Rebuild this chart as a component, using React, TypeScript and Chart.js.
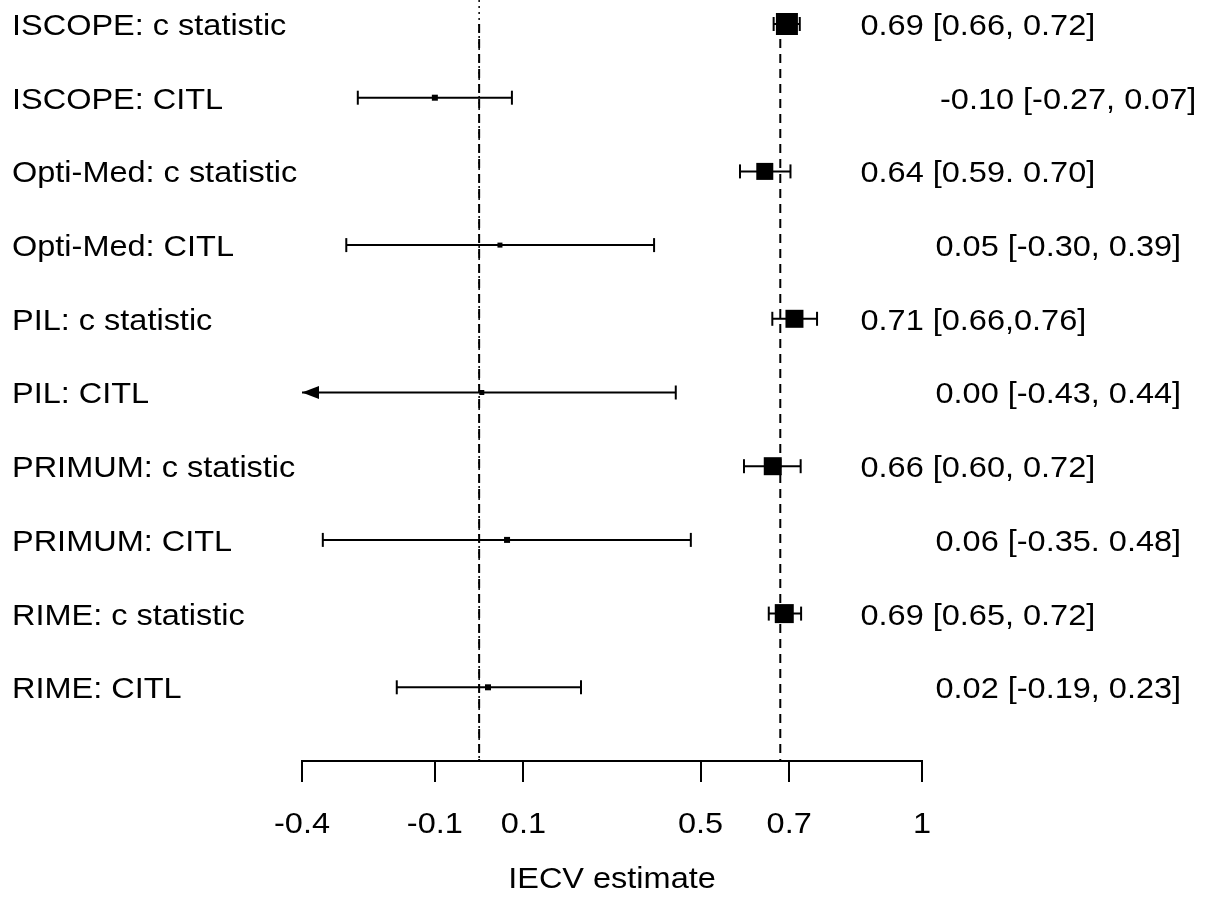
import React, { useEffect, useRef } from "react";
import { Chart, registerables } from "chart.js";

Chart.register(...registerables);

// ---------- data ----------
const rowLabels = [
  "ISCOPE: c statistic",
  "ISCOPE: CITL",
  "Opti-Med: c statistic",
  "Opti-Med: CITL",
  "PIL: c statistic",
  "PIL: CITL",
  "PRIMUM: c statistic",
  "PRIMUM: CITL",
  "RIME: c statistic",
  "RIME: CITL",
];
const estimates = [0.695, -0.1, 0.645, 0.047, 0.712, 0.006, 0.663, 0.063, 0.689, 0.02];
const lowerCI = [0.665, -0.274, 0.589, -0.3, 0.662, -0.43, 0.598, -0.353, 0.654, -0.186];
const upperCI = [0.724, 0.074, 0.703, 0.395, 0.763, 0.444, 0.726, 0.478, 0.727, 0.23];
const annotations = [
  "0.69 [0.66, 0.72]",
  "-0.10 [-0.27, 0.07]",
  "0.64 [0.59. 0.70]",
  "0.05 [-0.30, 0.39]",
  "0.71 [0.66,0.76]",
  "0.00 [-0.43, 0.44]",
  "0.66 [0.60, 0.72]",
  "0.06 [-0.35. 0.48]",
  "0.69 [0.65, 0.72]",
  "0.02 [-0.19, 0.23]",
];
const refLines = [0, 0.68];
const xTicks = [-0.4, -0.1, 0.1, 0.5, 0.7, 1];
const xTickLabels = ["-0.4", "-0.1", "0.1", "0.5", "0.7", "1"];
const axisTitle = "IECV estimate";

// ---------- styling ----------
const X_MIN = -0.4;
const X_MAX = 1;
const squareSides = [22, 6, 17, 5, 18, 5, 18, 6, 19, 6];
const FONT = '29px "Liberation Sans", Arial, sans-serif';
const STRETCH = 1.12;
const CI_WIDTH = 2;

function drawText(ctx: CanvasRenderingContext2D, text: string, x: number, y: number, align: CanvasTextAlign) {
  ctx.save();
  ctx.font = FONT;
  ctx.fillStyle = "#000";
  ctx.textAlign = align;
  ctx.textBaseline = "alphabetic";
  ctx.scale(STRETCH, 1);
  ctx.fillText(text, x / STRETCH, y);
  ctx.restore();
}

const forestPlugin = {
  id: "forestText",
  afterDatasetsDraw(chart: any) {
    const ctx = chart.ctx as CanvasRenderingContext2D;
    const xs = chart.scales.x;
    const ys = chart.scales.y;
    rowLabels.forEach((_, i) => {
      if (lowerCI[i] < X_MIN) {
        const tip = xs.getPixelForValue(X_MIN);
        const y = ys.getPixelForValue(i);
        ctx.save();
        ctx.fillStyle = "#000";
        ctx.beginPath();
        ctx.moveTo(tip, y);
        ctx.lineTo(tip + 17, y - 6.5);
        ctx.lineTo(tip + 17, y + 6.5);
        ctx.closePath();
        ctx.fill();
        ctx.restore();
      }
    });
  },
  afterDraw(chart: any) {
    const ctx = chart.ctx as CanvasRenderingContext2D;
    const xs = chart.scales.x;
    const ys = chart.scales.y;
    const area = chart.chartArea;
    rowLabels.forEach((label, i) => {
      const y = ys.getPixelForValue(i) + 11;
      drawText(ctx, label, 12, y, "left");
      const isCitl = label.endsWith("CITL");
      const txt = annotations[i];
      const ax = isCitl ? (txt.startsWith("-") ? 940 : 935.5) : 860.5;
      drawText(ctx, txt, ax, y, "left");
    });
    xs.ticks.forEach((t: any) => {
      const k = xTicks.indexOf(t.value);
      if (k >= 0) drawText(ctx, xTickLabels[k], xs.getPixelForValue(t.value), area.bottom + 72, "center");
    });
    drawText(ctx, axisTitle, (area.left + area.right) / 2, area.bottom + 127, "center");
  },
};

export default function App() {
  const canvasRef = useRef<HTMLCanvasElement | null>(null);

  useEffect(() => {
    if (!canvasRef.current) return;
    const n = rowLabels.length;
    const yTop = -0.3256;

    const datasets: any[] = [];
    // squares (point estimates)
    datasets.push({
      type: "scatter",
      data: estimates.map((v, i) => ({ x: v, y: i })),
      pointStyle: "rect",
      pointRadius: squareSides.map((s) => s / Math.SQRT2),
      backgroundColor: "#000",
      borderWidth: 0,
      pointBorderWidth: 0,
      order: 0,
      clip: false,
    });
    // confidence intervals
    rowLabels.forEach((_, i) => {
      const clipped = lowerCI[i] < X_MIN;
      datasets.push({
        type: "line",
        data: [
          { x: Math.max(lowerCI[i], X_MIN), y: i },
          { x: Math.min(upperCI[i], X_MAX), y: i },
        ],
        borderColor: "#000",
        borderWidth: CI_WIDTH,
        pointStyle: "line",
        rotation: 90,
        pointRadius: [clipped ? 0 : 7, 7],
        pointBorderColor: "#000",
        pointBorderWidth: CI_WIDTH,
        backgroundColor: "#000",
        order: 1,
        clip: false,
      });
    });
    // reference lines
    refLines.forEach((v) => {
      datasets.push({
        type: "line",
        data: [
          { x: v, y: 0 },
          { x: v, y: n },
        ],
        borderColor: "#000",
        borderWidth: 2,
        borderDash: [9, 6],
        pointRadius: 0,
        order: 2,
        clip: false,
      });
    });
    // dotted null line extending to the top
    datasets.push({
      type: "line",
      data: [
        { x: refLines[0], y: yTop },
        { x: refLines[0], y: n },
      ],
      borderColor: "#000",
      borderWidth: 1.5,
      borderDash: [2, 4],
      pointRadius: 0,
      order: 3,
      clip: false,
    });

    const chart = new Chart(canvasRef.current, {
      type: "scatter",
      data: { datasets },
      options: {
        animation: false,
        responsive: false,
        events: [],
        layout: { autoPadding: false, padding: { left: 302, right: 285, top: 0, bottom: 0 } },
        plugins: { legend: { display: false }, tooltip: { enabled: false }, title: { display: false } },
        scales: {
          x: {
            type: "linear",
            position: "bottom",
            min: X_MIN,
            max: X_MAX,
            afterBuildTicks: (scale: any) => {
              scale.ticks = xTicks.map((v) => ({ value: v }));
            },
            afterFit: (scale: any) => {
              scale.height = 137;
              scale.paddingLeft = 0;
              scale.paddingRight = 0;
              scale.paddingTop = 0;
              scale.paddingBottom = 0;
            },
            ticks: { display: false },
            grid: {
              display: true,
              drawOnChartArea: false,
              drawTicks: true,
              tickLength: 21,
              color: "#000",
              lineWidth: 2,
            },
            border: { display: true, color: "#000", width: 2 },
          },
          y: {
            type: "linear",
            display: false,
            reverse: true,
            min: yTop,
            max: n,
            ticks: { display: false },
            afterFit: (scale: any) => {
              scale.width = 0;
              scale.paddingLeft = 0;
              scale.paddingRight = 0;
              scale.paddingTop = 0;
              scale.paddingBottom = 0;
            },
          },
        },
      } as any,
      plugins: [forestPlugin],
    });
    return () => chart.destroy();
  }, []);

  return (
    <div style={{ position: "absolute", left: 0, top: 0, width: 1207, height: 898, background: "#fff" }}>
      <canvas ref={canvasRef} width={1207} height={898} style={{ display: "block" }} />
    </div>
  );
}
